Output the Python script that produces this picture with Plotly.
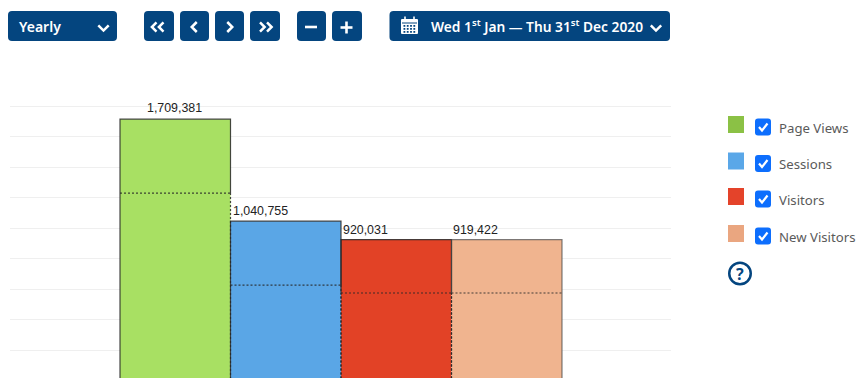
import plotly.graph_objects as go

categories = ["Page Views", "Sessions", "Visitors", "New Visitors"]
totals = [1709381, 1040755, 920031, 919422]
lower_marks = [1225000, 622000, 570000, 570000]
labels = ["1,709,381", "1,040,755", "920,031", "919,422"]
bar_colors = ["#A8E063", "#5AA6E6", "#E24226", "#F0B48F"]
legend_colors = ["#8BC145", "#5AA7E8", "#E4432A", "#EAA680"]
label_shift = [26, 1, 1, 0]
label_lift = [3, 2, 2, 2]
left_solid_full = [True, True, False, False]
right_solid_full = [False, False, False, True]
y_axis_max = 1835000
y_axis_min = 13000
grid_step = 200000
grid_origin = -5000

W, H = 858, 378
NAVY = "#04457F"
CHECK = "#0D6EFD"
positions = list(range(len(categories)))


def px(x):
    return x / W


def py(y):
    return 1 - y / H


def rrect(x0, y0, x1, y1, r=4):
    return (f"M{px(x0+r)},{py(y0)} L{px(x1-r)},{py(y0)} Q{px(x1)},{py(y0)} {px(x1)},{py(y0+r)} "
            f"L{px(x1)},{py(y1-r)} Q{px(x1)},{py(y1)} {px(x1-r)},{py(y1)} L{px(x0+r)},{py(y1)} "
            f"Q{px(x0)},{py(y1)} {px(x0)},{py(y1-r)} L{px(x0)},{py(y0+r)} Q{px(x0)},{py(y0)} {px(x0+r)},{py(y0)} Z")


def poly(points):
    return "M" + " L".join(f"{px(a)},{py(b)}" for a, b in points)


shapes = []
annotations = []


def fill_shape(path, color):
    shapes.append(dict(type="path", path=path, xref="paper", yref="paper", fillcolor=color, line_width=0))


def stroke(points, color="white", width=2.4):
    shapes.append(dict(type="path", path=poly(points), xref="paper", yref="paper",
                       line=dict(color=color, width=width)))


def text(x, y, s, size=14, color="white", weight=600, anchor="left", family="Noto Sans"):
    annotations.append(dict(x=px(x), y=py(y), xref="paper", yref="paper", text=s, showarrow=False,
                            xanchor=anchor, yanchor="middle", align="left", borderpad=0,
                            font=dict(family=family, size=size, color=color, weight=weight)))


def chevron(cx, cy, kind, s=5.0, width=2.5):
    if kind == "down":
        stroke([(cx - s, cy - s / 2), (cx, cy + s / 2), (cx + s, cy - s / 2)], width=width)
    elif kind == "left":
        stroke([(cx + s * 0.65, cy - s), (cx - s * 0.35, cy), (cx + s * 0.65, cy + s)], width=width)
    else:
        stroke([(cx - s * 0.65, cy - s), (cx + s * 0.35, cy), (cx - s * 0.65, cy + s)], width=width)


# Toolbar
for x0, x1 in [(8, 117), (144, 174), (180, 209), (215, 244), (250, 280), (297, 326), (332, 362), (389.5, 670)]:
    fill_shape(rrect(x0, 11, x1, 41), NAVY)
text(18, 26, "Yearly")
chevron(103.5, 28, "down", 5.2)
chevron(153.5, 27, "left", 4.6)
chevron(160.5, 27, "left", 4.6)
chevron(193.5, 27, "left", 5)
chevron(230.5, 27, "right", 5)
chevron(263, 27, "right", 4.6)
chevron(270, 27, "right", 4.6)
stroke([(305, 27), (317, 27)], width=2.6)
stroke([(340.5, 27.5), (352.5, 27.5)], width=2.6)
stroke([(346.5, 21.5), (346.5, 33.5)], width=2.6)
# calendar icon
fill_shape(rrect(401, 19, 418, 34, 1), "white")
for xx in (405, 414):
    stroke([(xx, 16.5), (xx, 20)], width=1.6)
for row in (25, 28, 31):
    for col in (403.5, 406.8, 410.1, 413.4):
        fill_shape(poly([(col, row), (col + 1.8, row), (col + 1.8, row + 1.8), (col, row + 1.8)]) + " Z", NAVY)
stroke([(402, 23), (417, 23)], color=NAVY, width=1)
text(429.5, 26, "Wed 1<sup>st</sup> Jan — Thu 31<sup>st</sup> Dec 2020", size=13.75)
chevron(656, 28, "down", 5.2)

# Legend
legend_y = [125, 161.5, 197, 234]
for name, color, cy in zip(categories, legend_colors, legend_y):
    fill_shape(poly([(728, cy - 9), (744, cy - 9), (744, cy + 8), (728, cy + 8)]) + " Z", color)
    fill_shape(rrect(755, cy - 6.5, 771, cy + 10.5, 3), CHECK)
    stroke([(759, cy + 2), (762, cy + 5.5), (767.5, cy - 1.5)], width=2.2)
    text(777.5, cy + 3, name, size=13.2, color="#5A5A5A", weight=400)

shapes.append(dict(type="circle", xref="paper", yref="paper", x0=px(729.25), x1=px(750.75),
                   y0=py(284.25), y1=py(262.75), line=dict(color=NAVY, width=2.5)))
text(740, 273.5, "?", size=16, color=NAVY, weight=700, anchor="center")

fig = go.Figure()
# Filled bars
for i, name in enumerate(categories):
    fig.add_trace(go.Bar(x=[positions[i]], y=[totals[i]], width=1, name=name,
                         marker=dict(color=bar_colors[i], line_width=0), showlegend=False))

# Dotted parts first, solid parts on top
for i in positions:
    left, right = i - 0.5, i + 0.5
    dx, dy = [left, right], [lower_marks[i], lower_marks[i]]
    if not left_solid_full[i]:
        dx += [None, left, left]
        dy += [None, y_axis_min, lower_marks[i]]
    if not right_solid_full[i]:
        dx += [None, right, right]
        dy += [None, lower_marks[i], y_axis_min]
    fig.add_trace(go.Scatter(x=dx, y=dy, mode="lines",
                             line=dict(color="rgba(40,40,40,0.85)", width=1.2, dash="2px,2px"),
                             showlegend=False, hoverinfo="skip"))
for i in positions:
    left, right = i - 0.5, i + 0.5
    y_start = y_axis_min if left_solid_full[i] else lower_marks[i]
    y_end = y_axis_min if right_solid_full[i] else lower_marks[i]
    edge = "rgba(40,40,40,0.85)" if i < 3 else "rgba(70,70,70,0.7)"
    fig.add_trace(go.Scatter(x=[left, left, right, right], y=[y_start, totals[i], totals[i], y_end],
                             mode="lines", line=dict(color=edge, width=1.2), showlegend=False, hoverinfo="skip"))

# Value labels
for i in positions:
    annotations.append(dict(x=i - 0.5, y=totals[i], xref="x", yref="y", text=labels[i], showarrow=False,
                            xanchor="left", yanchor="bottom", xshift=label_shift[i], yshift=label_lift[i],
                            borderpad=0, font=dict(family="Liberation Sans", size=12.4, color="#222222")))

px_per_cat = 110.5
x_left = -0.5 - (120 - 10) / px_per_cat
x_right = 3.5 + (671 - 562) / px_per_cat

fig.update_layout(
    width=W, height=H, margin=dict(l=0, r=0, t=0, b=0), autosize=False,
    paper_bgcolor="white", plot_bgcolor="white", barmode="overlay", showlegend=False,
    shapes=shapes, annotations=annotations,
    xaxis=dict(domain=[10 / W, 671 / W], range=[x_left, x_right], showgrid=False, zeroline=False,
               showticklabels=False, ticks=""),
    yaxis=dict(domain=[0, 278 / H], range=[y_axis_min, y_axis_max], dtick=grid_step, tick0=grid_origin,
               gridcolor="#EFEFEF", gridwidth=1, zeroline=False, showticklabels=False, ticks=""),
)
fig.write_html("out.html", config={"displayModeBar": False},
               post_script="document.body.style.margin='0';document.body.style.overflow='hidden';")
